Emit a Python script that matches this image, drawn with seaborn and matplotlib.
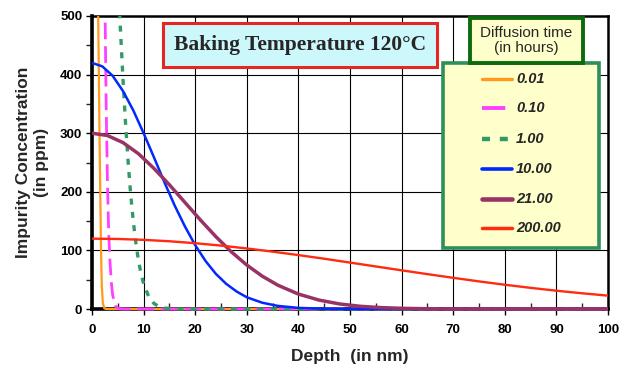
import matplotlib
matplotlib.use("Agg")
import matplotlib.pyplot as plt
from matplotlib.lines import Line2D
from matplotlib.patches import Rectangle
from matplotlib.ticker import MultipleLocator
from matplotlib.transforms import Bbox, TransformedBbox
import pandas as pd
import seaborn as sns

# Impurity concentration profiles (ppm) versus depth (nm) for each diffusion time
depth_001 = [0.8, 1.2, 1.45, 1.6, 1.75, 1.9, 2.1, 2.4, 2.8, 100]
conc_001 = [3000, 500, 300, 200, 100, 40, 10, 1, 0, 0]

depth_010 = [2.0, 2.5, 2.75, 3.0, 3.25, 3.5, 3.75, 4.0, 4.5, 5.0, 6.0, 100]
conc_010 = [1128, 533, 344, 213, 127, 78, 45, 24, 6, 1, 0, 0]

depth_100 = [4.5, 5.0, 5.5, 6.0, 6.5, 7.0, 7.5, 8.0, 8.5, 9.0, 9.5, 10, 11, 12, 13, 14, 16, 18, 100]
conc_100 = [677, 574, 479, 393, 317, 251, 195, 150, 113, 83, 60.5, 43.3, 21, 9.5, 4.0, 1.6, 0.2, 0, 0]

depth_1000 = [0, 2, 4, 6, 8, 10, 12, 14, 16, 18, 20, 22, 24, 26, 28, 30, 33, 36, 40, 45, 50, 100]
conc_1000 = [420, 414, 398, 372, 339, 300, 259, 217, 177, 141, 109, 82, 60, 43, 30, 20, 10.7, 5.3, 1.9, 0.4, 0, 0]

depth_2100 = [0, 3, 6, 9, 12, 15, 18, 21, 24, 27, 30, 33, 36, 40, 44, 48, 52, 56, 60, 65, 70, 100]
conc_2100 = [300, 296, 284, 265, 240, 212, 182, 152, 123.5, 97.6, 75, 56, 40.7, 25.5, 15.2, 8.6, 4.6, 2.4, 1.2, 0.4, 0, 0]

depth_20000 = [0, 5, 10, 15, 20, 25, 30, 35, 40, 45, 50, 55, 60, 65, 70, 75, 80, 85, 90, 95, 100]
conc_20000 = [120, 119.5, 118, 115.6, 112.3, 108.2, 103.3, 97.9, 92, 85.8, 79.2, 72.6, 66, 59.5, 53.2, 47.1, 41.4, 36.1, 31.2, 26.8, 22.8]

time_labels = ["0.01", "0.10", "1.00", "10.00", "21.00", "200.00"]
series = [
    (depth_001, conc_001),
    (depth_010, conc_010),
    (depth_100, conc_100),
    (depth_1000, conc_1000),
    (depth_2100, conc_2100),
    (depth_20000, conc_20000),
]
colors = ["#ff9a1a", "#ff40ff", "#339966", "#0028ff", "#993366", "#ff2a10"]
widths = [1.6, 2.0, 2.4, 1.8, 2.5, 1.7]
dash_styles = [None, (6, 2.5), (1.8, 2.2), None, None, None]

sns.set_theme(style="white")
plt.rcParams["font.family"] = ["Liberation Sans", "DejaVu Sans"]

W, H = 632, 372
fig = plt.figure(figsize=(W / 100, H / 100), dpi=100)
ax = fig.add_axes([92 / W, 1 - 309 / H, (608 - 92) / W, (309 - 16) / H])


def fx(px):
    return px / W


def fy(py):
    return 1 - py / H


frames = []
for label, (d, c) in zip(time_labels, series):
    frames.append(pd.DataFrame({"depth": d, "conc": c, "time": label}))
df = pd.concat(frames, ignore_index=True)

# clip region reaching a little below the x axis so zero-level lines sit on the spine
clip = TransformedBbox(Bbox([[0, -0.012], [1, 1]]), ax.transAxes)

for label, col, lw, ds in zip(time_labels, colors, widths, dash_styles):
    sub = df[df["time"] == label]
    sns.lineplot(data=sub, x="depth", y="conc", ax=ax, color=col, lw=lw,
                 estimator=None, sort=False, legend=False, zorder=3)
    line = ax.get_lines()[-1]
    if ds is not None:
        line.set_dashes(ds)
    line.set_clip_box(clip)

ax.set_xlim(0, 100)
ax.set_ylim(0, 500)
ax.xaxis.set_major_locator(MultipleLocator(10))
ax.xaxis.set_minor_locator(MultipleLocator(5))
ax.yaxis.set_major_locator(MultipleLocator(100))
ax.yaxis.set_minor_locator(MultipleLocator(50))
ax.grid(True, which="major", color="black", lw=0.8)
ax.set_axisbelow(True)

for side in ["left", "bottom"]:
    ax.spines[side].set_linewidth(2.6)
for side in ["top", "right"]:
    ax.spines[side].set_linewidth(1.8)
for s in ax.spines.values():
    s.set_color("black")
    s.set_visible(True)

ax.tick_params(axis="both", which="major", labelsize=9.5, colors="black",
               length=4, width=1, pad=3)
ax.tick_params(axis="y", which="both", direction="out", left=True, length=4, width=1)
ax.tick_params(axis="x", which="major", direction="out", bottom=True, length=4, width=1, pad=7)
ax.tick_params(axis="x", which="minor", direction="in", bottom=True, length=4, width=1)
for t in ax.get_xticklabels() + ax.get_yticklabels():
    t.set_fontweight("bold")

ax.set_xlabel("Depth  (in nm)", fontsize=12.5, fontweight="bold", labelpad=9)
ax.set_ylabel("Impurity Concentration\n(in ppm)", fontsize=12.5, fontweight="bold",
              labelpad=8, linespacing=1.25)

# Title banner
fig.add_artist(Rectangle((fx(163), fy(67)), fx(437) - fx(163), fy(23) - fy(67),
                         transform=fig.transFigure, fc="#ccf7fb", ec="#e8261f",
                         lw=2.2, zorder=5))
fig.text(fx(300), fy(45), "Baking Temperature 120°C",
         family=["Liberation Serif", "DejaVu Serif"], fontweight="bold", fontsize=15.5,
         ha="center", va="center", zorder=6)

# Legend panel
fig.add_artist(Rectangle((fx(443), fy(248)), fx(599) - fx(443), fy(63) - fy(248),
                         transform=fig.transFigure, fc="#ffffcc", ec="#2f8f5a",
                         lw=2.6, zorder=5))
entry_y = [79, 108, 139, 169, 199, 228]
for label, col, lw, ds, py in zip(time_labels, colors, widths, dash_styles, entry_y):
    h = Line2D([fx(482), fx(512)], [fy(py), fy(py)], transform=fig.transFigure,
               color=col, lw=lw + 0.8, zorder=6)
    if ds is not None:
        h.set_dashes(ds)
    fig.add_artist(h)
    fig.text(fx(516), fy(py), label, fontsize=10.5, fontweight="bold", fontstyle="italic",
             ha="left", va="center", zorder=6)

# Legend caption box
fig.add_artist(Rectangle((fx(470), fy(63)), fx(583) - fx(470), fy(18) - fy(63),
                         transform=fig.transFigure, fc="#ffffcc", ec="#0d6b0d",
                         lw=2.8, zorder=7))
fig.text(fx(526.5), fy(40.5), "Diffusion time\n(in hours)", fontsize=11,
         ha="center", va="center", linespacing=1.15, zorder=8)

fig.savefig("out.png", dpi=100, facecolor="white")
